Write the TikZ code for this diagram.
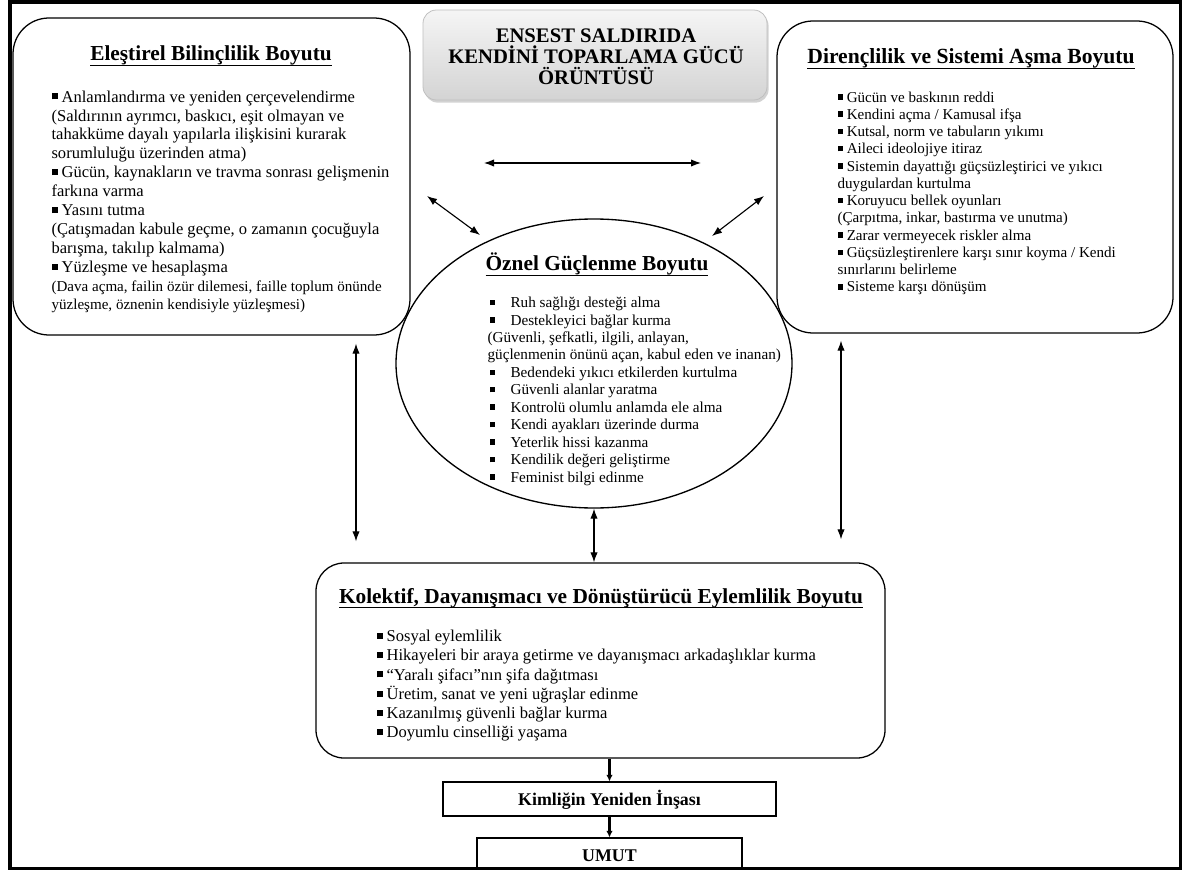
\documentclass[tikz,border=0pt]{standalone}
\usepackage{fontspec}
\setmainfont{Liberation Serif}
\usetikzlibrary{shapes.geometric,fit,shadows,arrows.meta}

\newsavebox\altikutu
\newcommand\alti[1]{\sbox\altikutu{#1}\usebox\altikutu\hspace{-\wd\altikutu}\rule[-3.9pt]{\wd\altikutu}{1.1pt}}
\newcommand\kare{\raisebox{.16em}{\rule{.36em}{.36em}}}
\newcommand\mad{\kare\hspace{.25em}}
\newcommand\emad{\makebox[17.25pt][l]{\hspace{1.5pt}\kare}}

\tikzset{
  kutu/.style={draw, line width=.95pt, rounded corners=27pt, inner sep=0pt},
  baslik/.style={anchor=base, inner sep=0pt, font=\bfseries\fontsize{16}{18}\selectfont},
  liste/.style={anchor=north west, inner sep=0pt, align=left},
  kalin/.style={->, line width=2.3pt, >={Latex[length=5pt,width=5pt]}},
}

\begin{document}
\begin{tikzpicture}[x=0.75pt, y=-0.75pt, >={Latex[length=7.5pt,width=5.5pt]}, line width=.85pt]
    \useasboundingbox (0,0) rectangle (1182,870);

    % boxes
    \node [kutu, fit={(13,18) (410,335)}] (sol) {};
    \node [kutu, fit={(777,21) (1173,333)}] (sag) {};
    \node [kutu, rounded corners=21pt, fit={(316,563) (885,758)}] (kol) {};
    \node [draw, ellipse, line width=1pt, inner sep=0pt, minimum width=297pt, minimum height=216.75pt] (ozne) at (594,363.5) {};
    \node [draw=black!25, line width=.6pt, rounded corners=10pt, top color=black!4, bottom color=black!17,
           drop shadow={shadow xshift=1.2pt, shadow yshift=-2pt, fill=black!35},
           minimum width=258pt, minimum height=67.5pt] (ana) at (595,55) {};
    \node [align=center, inner sep=0pt, font=\bfseries\fontsize{15.5}{15.75}\selectfont] (anayazi) at (596,56.5)
           {ENSEST SALDIRIDA\\KENDİNİ TOPARLAMA GÜCÜ\\ÖRÜNTÜSÜ};
    \node [draw, minimum width=249.75pt, minimum height=25.5pt, inner sep=0pt, text height=9pt, text depth=0pt,
           font=\bfseries\fontsize{13.4}{15}\selectfont] (kimlik) at (609.5,799) {Kimliğin Yeniden İnşası};
    \node [draw, minimum width=198.75pt, minimum height=22.5pt, inner sep=0pt, text height=12pt, text depth=0pt,
           font=\bfseries\fontsize{13.4}{15}\selectfont] (umut) at (609.5,853) {UMUT};

    % titles
    \node [baslik] (solb) at (211,61) {\alti{Eleştirel Bilinçlilik Boyutu}};
    \node [baslik, font=\bfseries\fontsize{16.2}{18}\selectfont] (sagb) at (971,64) {\alti{Dirençlilik ve Sistemi Aşma Boyutu}};
    \node [baslik] (ozneb) at (597,271) {\alti{Öznel Güçlenme Boyutu}};
    \node [baslik] (kolb) at (601,603) {\alti{Kolektif, Dayanışmacı ve Dönüştürücü Eylemlilik Boyutu}};

    % Left
    \node [liste, font=\fontsize{12.4}{14.2}\selectfont] (soll) at (51,88.25) {\strut\mad Anlamlandırma ve yeniden çerçevelendirme\\
        (Saldırının ayrımcı, baskıcı, eşit olmayan ve\\
        tahakküme dayalı yapılarla ilişkisini kurarak\\
        sorumluluğu üzerinden atma)\\
        \mad Gücün, kaynakların ve travma sonrası gelişmenin\\
        farkına varma\\
        \mad Yasını tutma\\
        (Çatışmadan kabule geçme, o zamanın çocuğuyla\\
        barışma, takılıp kalmama)\\
        \mad Yüzleşme ve hesaplaşma};
    \node [liste, font=\fontsize{11.3}{13.9}\selectfont] (solk) at (51,277.5) {\strut(Dava açma, failin özür dilemesi, faille toplum önünde\\
        yüzleşme, öznenin kendisiyle yüzleşmesi)};

    % Right
    \node [liste, font=\fontsize{11.3}{12.95}\selectfont] (sagl) at (837,89.4) {\strut\mad Gücün ve baskının reddi\\
        \mad Kendini açma / Kamusal ifşa\\
        \mad Kutsal, norm ve tabuların yıkımı\\
        \mad Aileci ideolojiye itiraz\\
        \mad Sistemin dayattığı güçsüzleştirici ve yıkıcı\\
        duygulardan kurtulma\\
        \mad Koruyucu bellek oyunları\\
        (Çarpıtma, inkar, bastırma ve unutma)\\
        \mad Zarar vermeyecek riskler alma\\
        \mad Güçsüzleştirenlere karşı sınır koyma / Kendi\\
        sınırlarını belirleme\\
        \mad Sisteme karşı dönüşüm};

    % Middle
    \node [liste, font=\fontsize{11.4}{13.1}\selectfont] (oznel) at (487,294.8) {\strut\emad Ruh sağlığı desteği alma\\
        \emad Destekleyici bağlar kurma\\
        (Güvenli, şefkatli, ilgili, anlayan,\\
        güçlenmenin önünü açan, kabul eden ve inanan)\\
        \emad Bedendeki yıkıcı etkilerden kurtulma\\
        \emad Güvenli alanlar yaratma\\
        \emad Kontrolü olumlu anlamda ele alma\\
        \emad Kendi ayakları üzerinde durma\\
        \emad Yeterlik hissi kazanma\\
        \emad Kendilik değeri geliştirme\\
        \emad Feminist bilgi edinme};

    % Bottom
    \node [liste, font=\fontsize{12.4}{14.4}\selectfont] (koll) at (376,627.6) {\strut\mad Sosyal eylemlilik\\
        \mad Hikayeleri bir araya getirme ve dayanışmacı arkadaşlıklar kurma\\
        \mad “Yaralı şifacı”nın şifa dağıtması\\
        \mad Üretim, sanat ve yeni uğraşlar edinme\\
        \mad Kazanılmış güvenli bağlar kurma\\
        \mad Doyumlu cinselliği yaşama};

    % arrows
    \coordinate (y1) at (484,163);
    \coordinate (y2) at (701,163);
    \coordinate (s1) at (427,196);
    \coordinate (s2) at (480,235);
    \coordinate (r1) at (712,236);
    \coordinate (r2) at (764,196);
    \coordinate (solv) at (356,0);
    \coordinate (sagv) at (841,0);

    \draw [<->] (y1)--(y2);
    \draw [<->] (s1)--(s2);
    \draw [<->] (r1)--(r2);
    \draw [<->, shorten <=6pt, shorten >=15.75pt] (sol.south -| solv)--(kol.north -| solv); % Left
    \draw [<->, shorten <=5.25pt, shorten >=17.25pt] (sag.south -| sagv)--(kol.north -| sagv); % Right
    \draw [<->] (ozne.south)--(ozne.south |- kol.north);
    \draw [kalin] (kol.south -| kimlik.north)--(kimlik.north);
    \draw [kalin] (kimlik.south)--(umut.north);

    \draw [line width=3pt] (10,2.5) rectangle (1180.5,868.5);
\end{tikzpicture}
\end{document}
